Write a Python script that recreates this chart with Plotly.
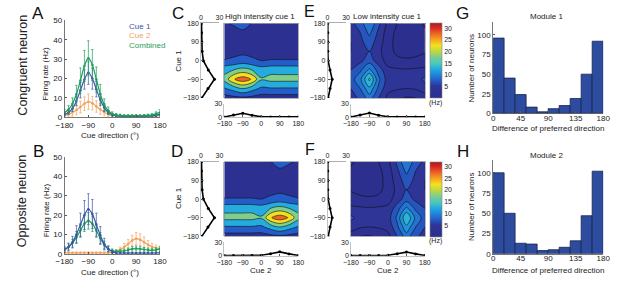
import plotly.graph_objects as go

W, H = 617, 282

# ---------------- data ----------------
dirs25 = [-180, -165, -150, -135, -120, -105, -90, -75, -60, -45, -30, -15, 0,
          15, 30, 45, 60, 75, 90, 105, 120, 135, 150, 165, 180]

A_cue1 = [1.5, 2.5, 4.5, 8.5, 14, 19.5, 23, 20, 14.5, 9, 5, 2.5, 1.3,
          0.8, 0.6, 0.5, 0.5, 0.5, 0.5, 0.5, 0.5, 0.6, 0.7, 1.0, 1.5]
A_cue1_err = [0.8, 1, 1.5, 2.5, 4, 5, 6, 5.5, 4, 3, 2, 1, 0.6,
              0.4, 0.4, 0.4, 0.4, 0.4, 0.4, 0.4, 0.4, 0.4, 0.5, 0.6, 0.8]
A_cue2 = [1, 1.5, 2.5, 3.8, 5.3, 7, 8, 7.3, 5.6, 4, 2.6, 1.5, 0.9,
          0.6, 0.6, 0.6, 0.6, 0.6, 0.6, 0.6, 0.6, 0.6, 0.7, 0.8, 0.9]
A_cue2_err = [1, 1.2, 1.8, 2.5, 3, 3.5, 4, 3.5, 3, 2.5, 1.8, 1.2, 0.8,
              0.5, 0.5, 0.5, 0.5, 0.5, 0.5, 0.5, 0.5, 0.5, 0.5, 0.6, 0.8]
A_comb = [2.5, 4, 7, 12, 19, 26.5, 30.5, 27, 19.5, 12, 6.5, 3.5, 1.8,
          1.2, 1, 0.8, 0.8, 0.8, 0.8, 0.8, 0.9, 1, 1.2, 1.8, 2.5]
A_comb_err = [1.5, 2, 3, 4.5, 6.5, 8, 9, 8, 6.5, 5, 3, 1.8, 1,
              0.7, 0.6, 0.5, 0.5, 0.5, 0.5, 0.5, 0.5, 0.6, 0.7, 1, 1.5]

B_cue1 = [2, 3.5, 6, 10, 15, 20, 23, 20.5, 15, 9.5, 5, 2.5, 1,
          0.4, 0.3, 0.3, 0.3, 0.3, 0.3, 0.3, 0.3, 0.3, 0.3, 0.4, 0.5]
B_cue1_err = [1.2, 2, 3, 4.5, 6, 7.5, 8, 7.5, 6, 4.5, 3, 1.5, 0.8,
              0.3, 0.3, 0.3, 0.3, 0.3, 0.3, 0.3, 0.3, 0.3, 0.3, 0.3, 0.4]
B_cue2 = [0.5, 0.5, 0.5, 0.5, 0.5, 0.5, 0.5, 0.5, 0.5, 0.5, 0.5, 0.5, 0.8,
          1.3, 2.2, 3.5, 5, 6.8, 7.8, 7.3, 6, 4.6, 3.6, 3, 2.6]
B_cue2_err = [0.3, 0.3, 0.3, 0.3, 0.3, 0.3, 0.3, 0.3, 0.3, 0.3, 0.3, 0.3, 0.5,
              0.8, 1.2, 1.8, 2.3, 2.8, 3.2, 3, 2.7, 2.2, 1.8, 1.5, 1.3]
B_comb = [2.5, 3.5, 5.5, 8.5, 12, 15.5, 17, 15.5, 12, 8, 4.5, 2.5, 1.5,
          1.2, 1.3, 1.5, 2, 2.5, 2.7, 2.5, 2.2, 2, 1.8, 2, 2.5]
B_comb_err = [1.2, 1.5, 2, 3, 3.5, 4, 4.3, 4, 3.5, 3, 2, 1.5, 1,
              0.8, 0.8, 0.9, 1, 1.2, 1.3, 1.2, 1.1, 1, 1, 1, 1.2]

dirs9 = [-180, -135, -90, -45, 0, 45, 90, 135, 180]

# rows: cue 1 (-180 .. 180), columns: cue 2 (-180 .. 180)
C_z = [
    [2.5, 3.5, 4, 3.5, 2.5, 2.5, 2.5, 2.5, 2.5],
    [9.5, 12, 15, 12, 9, 9.5, 9.5, 9.5, 9.5],
    [16.5, 24.5, 28, 24.5, 15.5, 16.5, 16.5, 16.5, 16.5],
    [13.5, 15, 17, 15, 12.5, 13.5, 13.5, 13.5, 13.5],
    [5.25, 6, 7, 6, 5, 5.25, 5.25, 5.25, 5.25],
    [3, 3.3, 3.7, 3.3, 3, 3, 3, 3, 3],
    [2.5, 3, 3.5, 3, 2.5, 2.5, 2.5, 2.5, 2.5],
    [3, 3.5, 4.1, 3.5, 3, 3, 3, 3, 3],
    [4.5, 5.5, 7, 4.8, 4, 4, 4, 4, 4.5],
]
D_z = [
    [2.5, 2.5, 2.5, 2.5, 2.5, 3.5, 4, 3.5, 2.5],
    [9.5, 9.5, 9.5, 9.5, 9, 12, 15, 12, 9.5],
    [16.5, 16.5, 16.5, 16.5, 15.5, 24.5, 28, 24.5, 16.5],
    [13.5, 13.5, 13.5, 13.5, 12.5, 15, 17, 15, 13.5],
    [5.25, 5.25, 5.25, 5.25, 5, 6, 7, 6, 5.25],
    [3, 3, 3, 3, 3, 3.3, 3.7, 3.3, 3],
    [2.5, 2.5, 2.5, 2.5, 2.5, 3, 3.5, 3, 2.5],
    [3, 3, 3, 3, 3, 3.5, 4.1, 3.5, 3],
    [4.5, 4, 4, 4, 4, 4.8, 7, 5.5, 4.5],
]
E_z = [
    [5, 6.5, 9, 6, 3.5, 2.5, 1.8, 2, 3],
    [6, 8, 11.5, 7.5, 4.5, 4.2, 4, 4.2, 5],
    [7, 9.5, 14.5, 8.5, 5, 4.5, 4.5, 5, 6.5],
    [6, 7.5, 10.5, 7, 4.5, 4.3, 4.2, 4.3, 4.5],
    [4.5, 5.5, 7, 5, 3.2, 2.5, 2.3, 2.5, 2.8],
    [4, 5, 6, 4.5, 2.8, 1.5, 1.2, 1.3, 1.8],
    [4, 5.5, 7, 5, 2.8, 1.3, 1.0, 1.1, 1.6],
    [4.5, 6, 8.5, 5.5, 3, 1.5, 1.2, 1.3, 1.8],
    [5.5, 7, 10, 6.5, 3.5, 2, 1.5, 1.6, 2.2],
]
F_z = [
    [3, 2, 1.8, 2.5, 3.5, 6, 9, 6.5, 5],
    [5, 4.2, 4, 4.2, 4.5, 7.5, 11.5, 8, 6],
    [6.5, 5, 4.5, 4.5, 5, 8.5, 14, 9.5, 7],
    [4.5, 4.3, 4.2, 4.3, 4.5, 7, 10.5, 7.5, 6],
    [2.8, 2.5, 2.3, 2.5, 3.2, 5, 7, 5.5, 4.5],
    [1.8, 1.3, 1.2, 1.5, 2.8, 4.5, 6, 5, 4],
    [1.6, 1.1, 1.0, 1.3, 2.8, 5, 7, 5.5, 4],
    [1.8, 1.3, 1.2, 1.5, 3, 5.5, 8.5, 6, 4.5],
    [2.2, 1.6, 1.5, 2, 3.5, 6.5, 10, 7, 5.5],
]

C_side = [1.5, 11.5, 22, 12, 4, 2, 1.5, 1, 1]
C_bottom = [0.5, 5, 9, 4.5, 1, 0.8, 0.8, 0.8, 0.8]
E_side = [1, 4, 7.5, 4, 1, 0.5, 0.5, 0.5, 0.5]
E_bottom = [0.5, 5, 9.5, 4.5, 1, 0.8, 0.8, 0.8, 0.8]
D_side = [1.5, 11.5, 22, 12, 4, 2, 1.5, 1, 1]
D_bottom = [0.3, 0.3, 0.3, 0.5, 1, 4.5, 8.5, 4, 0.3]
F_side = [1, 4, 7.5, 4, 1, 0.5, 0.5, 0.5, 0.5]
F_bottom = [0.3, 0.3, 0.3, 0.5, 1, 4.5, 8, 4, 0.3]

hist_centers = [9, 27, 45, 63, 81, 99, 117, 135, 153, 171]
G_counts = [96, 45, 24, 8, 2, 6, 10, 19, 50, 92]
H_counts = [100, 50, 13, 12, 4, 5, 8, 16, 47, 102]

cbar_range = [0, 32]
cbar_ticks = [5, 10, 15, 20, 25, 30]
dir_ticks = [-180, -90, 0, 90, 180]
hist_xticks = [0, 45, 90, 135, 180]
hist_yticks = [0, 25, 50, 75, 100]

# ---------------- style ----------------
FONT = "Liberation Sans, Arial, sans-serif"
TXT = "#222222"
AX = "#555555"
BLUE = "#3b55a6"
ORANGE = "#f2a25e"
GREEN = "#1e9e5c"

jet = [
    [0.00, "#2b2e8c"], [0.16, "#2e3597"], [0.24, "#2460cc"],
    [0.38, "#1fa8e4"], [0.46, "#4cc8b8"], [0.53, "#72cb9c"],
    [0.63, "#c4d93c"], [0.70, "#f3e21f"], [0.78, "#f6a320"],
    [0.86, "#ee6325"], [0.93, "#db2b25"], [1.00, "#a31c21"],
]


def _rgb(h):
    h = h.lstrip("#")
    return [int(h[i:i + 2], 16) for i in (0, 2, 4)]


def jet_color(v):
    t = (v - cbar_range[0]) / (cbar_range[1] - cbar_range[0])
    t = min(max(t, 0.0), 1.0)
    for (p0, c0), (p1, c1) in zip(jet[:-1], jet[1:]):
        if p0 <= t <= p1:
            f = 0 if p1 == p0 else (t - p0) / (p1 - p0)
            a, b = _rgb(c0), _rgb(c1)
            return "rgb(%d,%d,%d)" % tuple(round(a[i] + (b[i] - a[i]) * f) for i in range(3))
    return jet[-1][1]


def band_scale(start, end, size):
    # plotly colours the band above level L with the scale value at L + size/2,
    # over the domain [start - size/2, end + size/2]
    n = int(round((end - start) / size))
    return [[k / (n + 1), jet_color(start - size / 2 + k * size)] for k in range(n + 2)]


def dx(a, b):
    return [a / W, b / W]


def dy(top, bottom):
    return [1 - bottom / H, 1 - top / H]


fig = go.Figure()
layout = {}


def axis_pair(n, xdom, ydom, xopt, yopt):
    xa = dict(domain=xdom, anchor="y%d" % n, showgrid=False, zeroline=False,
              tickfont=dict(size=8, color=TXT, family=FONT), linecolor=AX,
              tickcolor=AX, fixedrange=True)
    ya = dict(domain=ydom, anchor="x%d" % n, showgrid=False, zeroline=False,
              tickfont=dict(size=8, color=TXT, family=FONT), linecolor=AX,
              tickcolor=AX, fixedrange=True)
    xa.update(xopt)
    ya.update(yopt)
    layout["xaxis" if n == 1 else "xaxis%d" % n] = xa
    layout["yaxis" if n == 1 else "yaxis%d" % n] = ya


def xy(n):
    return ("x" if n == 1 else "x%d" % n), ("y" if n == 1 else "y%d" % n)


# ---- tuning curves A, B ----
def tuning(n, top, series):
    axis_pair(n, dx(57, 155), dy(top, top + 100),
              dict(range=[-180, 180], tickvals=dir_ticks, showline=True,
                   ticks="inside", ticklen=2, linewidth=0.8),
              dict(range=[0, 50], tickvals=[0, 10, 20, 30, 40, 50], showline=True,
                   ticks="inside", ticklen=2, linewidth=0.8))
    xa, ya = xy(n)
    for vals, err, col in series:
        fig.add_trace(go.Scatter(
            x=dirs25, y=vals, xaxis=xa, yaxis=ya, mode="lines+markers",
            line=dict(color=col, width=1.2, shape="spline"),
            marker=dict(color=col, size=2.5),
            error_y=dict(type="data", array=err, color=col, thickness=0.7, width=1.2),
            showlegend=False, hoverinfo="skip"))


tuning(1, 17, [(A_cue2, A_cue2_err, ORANGE), (A_cue1, A_cue1_err, BLUE),
               (A_comb, A_comb_err, GREEN)])
tuning(2, 158, [(B_cue2, B_cue2_err, ORANGE), (B_comb, B_comb_err, GREEN),
                (B_cue1, B_cue1_err, BLUE)])


# ---- contour panels ----
def contour_panel(n0, x0, top, z, side, bottom, levels):
    heat_top, heat_bot = top, top + 77
    # side (cue 1 tuning)
    axis_pair(n0, dx(x0 - 24, x0 - 5), dy(heat_top, heat_bot),
              dict(range=[0, 30], tickvals=[0, 30], side="top", showline=True,
                   ticks="", linecolor="#999999", linewidth=0.8,
                   tickfont=dict(size=7, color=TXT, family=FONT)),
              dict(range=[-180, 180], tickvals=dir_ticks, showline=True,
                   ticks="inside", ticklen=2, linecolor="#999999", linewidth=0.6,
                   tickfont=dict(size=7, color=TXT, family=FONT)))
    xa, ya = xy(n0)
    fig.add_trace(go.Scatter(x=side, y=dirs9, xaxis=xa, yaxis=ya, mode="lines+markers",
                             line=dict(color="black", width=1.6),
                             marker=dict(color="black", size=3),
                             showlegend=False, hoverinfo="skip"))
    # heat map
    axis_pair(n0 + 1, dx(x0, x0 + 76), dy(heat_top, heat_bot),
              dict(range=[-180, 180], showticklabels=False, ticks="", showline=True,
                   mirror=True, linecolor="#888888", linewidth=0.6),
              dict(range=[-180, 180], showticklabels=False, ticks="", showline=True,
                   mirror=True, linecolor="#888888", linewidth=0.6))
    xa, ya = xy(n0 + 1)
    fig.add_trace(go.Contour(x=dirs9, y=dirs9, z=z, xaxis=xa, yaxis=ya,
                             colorscale=band_scale(*levels),
                             contours=dict(start=levels[0], end=levels[1], size=levels[2],
                                           coloring="fill", showlines=True),
                             line=dict(color="#111111", width=0.6),
                             showscale=False, hoverinfo="skip"))
    # bottom (cue 2 tuning)
    axis_pair(n0 + 2, dx(x0, x0 + 76), dy(heat_bot + 6, heat_bot + 20),
              dict(range=[-180, 180], tickvals=dir_ticks, showline=True, ticks="inside",
                   ticklen=2, linecolor="#999999", linewidth=0.6,
                   tickfont=dict(size=7, color=TXT, family=FONT)),
              dict(range=[0, 30], tickvals=[0, 30], showline=True, ticks="inside",
                   ticklen=2, linecolor="#999999", linewidth=0.6,
                   tickfont=dict(size=7, color=TXT, family=FONT)))
    xa, ya = xy(n0 + 2)
    fig.add_trace(go.Scatter(x=dirs9, y=bottom, xaxis=xa, yaxis=ya, mode="lines+markers",
                             line=dict(color="black", width=1.6),
                             marker=dict(color="black", size=3),
                             showlegend=False, hoverinfo="skip"))


contour_panel(3, 221, 20, C_z, C_side, C_bottom, (5, 25, 5))
contour_panel(6, 351, 20, E_z, E_side, E_bottom, (2, 14, 2))
contour_panel(9, 221, 163, D_z, D_side, D_bottom, (5, 25, 5))
contour_panel(12, 351, 163, F_z, F_side, F_bottom, (2, 14, 2))


# ---- histograms ----
def hist_panel(n, top, bottom, counts):
    axis_pair(n, dx(497, 610), dy(top, bottom),
              dict(range=[0, 180], tickvals=hist_xticks, showline=True, ticks="inside",
                   ticklen=2, linewidth=0.8, ticklabelstandoff=-3),
              dict(range=[0, 116], tickvals=hist_yticks, showline=True, ticks="inside",
                   ticklen=2, linewidth=0.8))
    xa, ya = xy(n)
    fig.add_trace(go.Bar(x=hist_centers, y=counts, width=18, xaxis=xa, yaxis=ya,
                         marker=dict(color="#2d4b9f", line=dict(color="#17244f", width=0.8)),
                         showlegend=False, hoverinfo="skip"))


hist_panel(15, 19, 113, G_counts)
hist_panel(16, 161, 258, H_counts)

# ---- colour bars (dummy trace carries the continuous scale) ----
layout["xaxis17"] = dict(domain=[0, 0.01], anchor="y17", visible=False)
layout["yaxis17"] = dict(domain=[0, 0.01], anchor="x17", visible=False)
for ctop in (20, 163):
    fig.add_trace(go.Scatter(
        x=[0, 0], y=[0, 0], xaxis="x17", yaxis="y17", mode="markers",
        marker=dict(color=cbar_range, colorscale=jet, cmin=cbar_range[0],
                    cmax=cbar_range[1], opacity=0, size=1, showscale=True,
                    colorbar=dict(x=432 / W, xanchor="left", y=1 - ctop / H, yanchor="top",
                                  len=77 / H, lenmode="fraction", thickness=12,
                                  thicknessmode="pixels", xpad=0, ypad=0,
                                  outlinewidth=0.6, outlinecolor="#888888",
                                  tickvals=cbar_ticks, ticks="",
                                  tickfont=dict(size=7, color=TXT, family=FONT))),
        showlegend=False, hoverinfo="skip"))

# ---- text ----
ann = []


def text(s, x, y, size=8, color=TXT, angle=0, xanchor="center"):
    ann.append(dict(text=s, x=x / W, y=1 - y / H, xref="paper", yref="paper",
                    showarrow=False, textangle=angle, xanchor=xanchor, yanchor="middle",
                    font=dict(size=size, color=color, family=FONT)))


for s, x, y, sz in [("A", 30, 10, 17), ("B", 30, 152, 17), ("C", 174, 10, 17),
                    ("D", 172, 152, 17), ("E", 308, 8, 16), ("F", 309, 150, 16),
                    ("G", 466, 10, 17), ("H", 466, 152, 17)]:
    text(s, x, y, size=sz, color="#111111")

text("Congruent neuron", 14, 63, size=12.5, angle=-90)
text("Opposite neuron", 14, 204, size=12.5, angle=-90)
text("Firing rate (Hz)", 38, 72, angle=-90)
text("Firing rate (Hz)", 38, 213, angle=-90)
text("Cue direction (°)", 104, 136)
text("Cue direction (°)", 104, 277)
text("Cue 1", 121, 23, color=BLUE, xanchor="left")
text("Cue 2", 121, 33, color=ORANGE, xanchor="left")
text("Combined", 121, 43, color=GREEN, xanchor="left")
text("High intensity cue 1", 258, 13)
text("Low intensity cue 1", 389, 13)
text("Cue 1", 174, 58, angle=-90)
text("Cue 1", 174, 200, angle=-90)
text("Cue 2", 259, 275)
text("Cue 2", 389, 275)
text("(Hz)", 438, 102, size=7)
text("(Hz)", 438, 245, size=7)
text("Module 1", 552, 13)
text("Module 2", 552, 156)
text("Number of neurons", 475, 67, angle=-90)
text("Number of neurons", 475, 210, angle=-90)
text("Difference of preferred direction", 553, 129)
text("Difference of preferred direction", 553, 275)

layout.update(dict(width=W, height=H, margin=dict(l=0, r=0, t=0, b=0),
                   paper_bgcolor="white", plot_bgcolor="white", showlegend=False,
                   annotations=ann, font=dict(family=FONT, size=8, color=TXT)))
fig.update_layout(**layout)
fig.write_html("out.html", config={"displayModeBar": False, "staticPlot": True},
               post_script="document.body.style.margin='0';document.body.style.padding='0';")
